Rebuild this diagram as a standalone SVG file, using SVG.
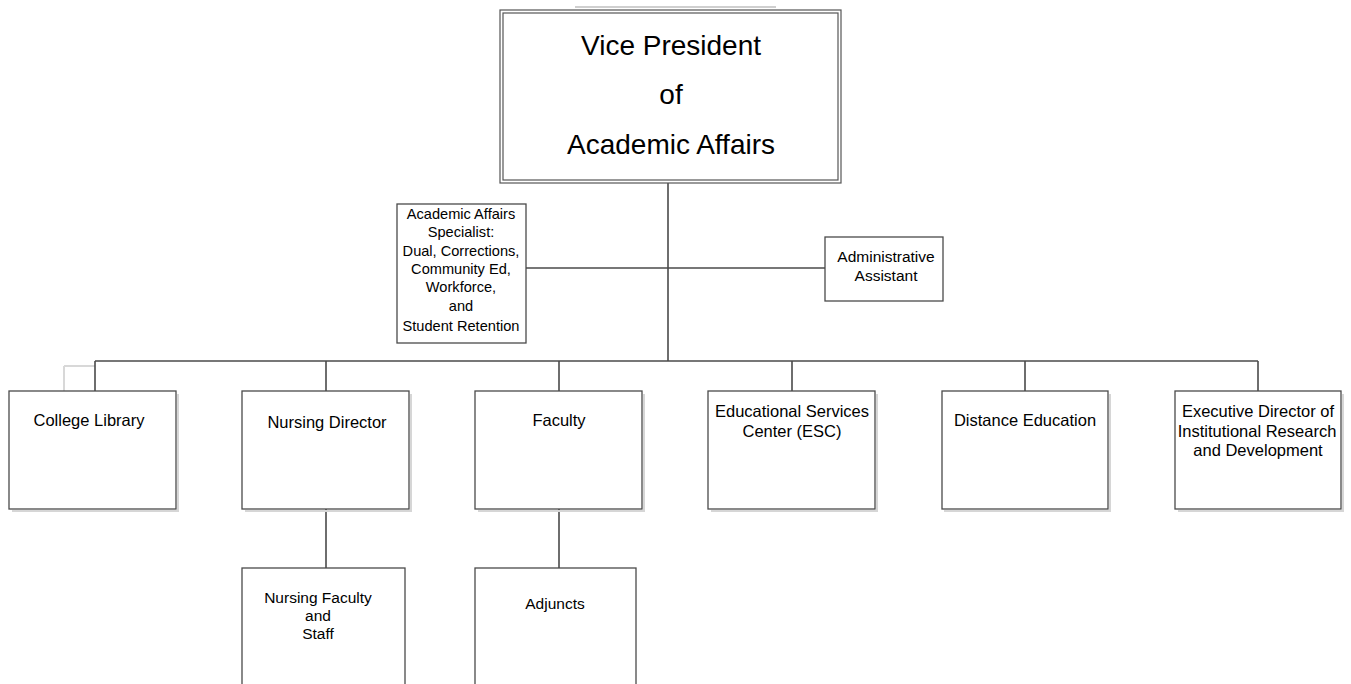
<svg xmlns="http://www.w3.org/2000/svg" width="1351" height="684" viewBox="0 0 1351 684">
<defs>
<style>
.box{fill:#fff;stroke:#4a4a4a;stroke-width:1.3}
.shadow{fill:none;stroke:#d6d6d6;stroke-width:2}
.conn{fill:none;stroke:#4a4a4a;stroke-width:1.6}
.ghost{fill:none;stroke:#d8d8d8;stroke-width:2}
text{font-family:"Liberation Sans",Arial,sans-serif;fill:#000;text-anchor:middle}
.t16{font-size:16.5px}
.t15{font-size:15.5px}
.t14{font-size:14.6px}
.t26{font-size:28px}
</style>
</defs>
<rect width="1351" height="684" fill="#fff"/>
<line x1="575" y1="7" x2="776" y2="7" stroke="#cfcfcf" stroke-width="2"/>
<g id="connectors">
<line class="ghost" x1="64" y1="366" x2="64" y2="392"/>
<line class="ghost" x1="64" y1="366" x2="95" y2="366"/>
<line class="conn" x1="668" y1="183" x2="668" y2="361"/>
<line class="conn" x1="526" y1="268" x2="825" y2="268"/>
<line class="conn" x1="95" y1="361" x2="1258" y2="361"/>
<line class="conn" x1="95" y1="361" x2="95" y2="391"/>
<line class="conn" x1="326" y1="361" x2="326" y2="391"/>
<line class="conn" x1="559" y1="361" x2="559" y2="391"/>
<line class="conn" x1="792" y1="361" x2="792" y2="391"/>
<line class="conn" x1="1025" y1="361" x2="1025" y2="391"/>
<line class="conn" x1="1258" y1="361" x2="1258" y2="391"/>
<line class="conn" x1="326" y1="509" x2="326" y2="568"/>
<line class="conn" x1="559" y1="509" x2="559" y2="568"/>
</g>
<g id="vp">
<rect x="500" y="10" width="341" height="173" fill="#fff" stroke="#555" stroke-width="1.2"/>
<rect x="503" y="13" width="335" height="167" fill="none" stroke="#555" stroke-width="1.2"/>
<text class="t26" x="671" y="55">Vice President</text>
<text class="t26" x="671" y="104">of</text>
<text class="t26" x="671" y="154">Academic Affairs</text>
</g>
<g id="specialist">
<rect class="box" x="397" y="204" width="129" height="139"/>
<text class="t14" x="461" y="219">Academic Affairs</text>
<text class="t14" x="461" y="237">Specialist:</text>
<text class="t14" x="461" y="256">Dual, Corrections,</text>
<text class="t14" x="461" y="274">Community Ed,</text>
<text class="t14" x="461" y="292">Workforce,</text>
<text class="t14" x="461" y="311">and</text>
<text class="t14" x="461" y="331">Student Retention</text>
</g>
<g id="admin">
<rect class="box" x="825" y="237" width="118" height="64"/>
<text class="t15" x="886" y="262">Administrative</text>
<text class="t15" x="886" y="281">Assistant</text>
</g>
<g id="library">
<polyline class="shadow" points="178,394 178,511 12,511"/>
<rect class="box" x="9" y="391" width="167" height="118"/>
<text class="t16" x="89" y="426">College Library</text>
</g>
<g id="nursing-director">
<polyline class="shadow" points="411,394 411,511 245,511"/>
<rect class="box" x="242" y="391" width="167" height="118"/>
<text class="t16" x="327" y="428">Nursing Director</text>
</g>
<g id="faculty">
<polyline class="shadow" points="644,394 644,511 478,511"/>
<rect class="box" x="475" y="391" width="167" height="118"/>
<text class="t16" x="559" y="426">Faculty</text>
</g>
<g id="esc">
<polyline class="shadow" points="877,394 877,511 711,511"/>
<rect class="box" x="708" y="391" width="167" height="118"/>
<text class="t16" x="792" y="417">Educational Services</text>
<text class="t16" x="792" y="437">Center (ESC)</text>
</g>
<g id="distance">
<polyline class="shadow" points="1110,394 1110,511 944,511"/>
<rect class="box" x="942" y="391" width="166" height="118"/>
<text class="t16" x="1025" y="426">Distance Education</text>
</g>
<g id="exec">
<polyline class="shadow" points="1343,394 1343,511 1178,511"/>
<rect class="box" x="1175" y="391" width="166" height="118"/>
<text class="t16" x="1258" y="417">Executive Director of</text>
<text class="t16" x="1257" y="437">Institutional Research</text>
<text class="t16" x="1258" y="456">and Development</text>
</g>
<g id="nursing-faculty">
<rect class="box" x="242" y="568" width="163" height="130"/>
<text class="t15" x="318" y="603">Nursing Faculty</text>
<text class="t15" x="318" y="621">and</text>
<text class="t15" x="318" y="639">Staff</text>
</g>
<g id="adjuncts">
<rect class="box" x="475" y="568" width="161" height="130"/>
<text class="t15" x="555" y="609">Adjuncts</text>
</g>
</svg>
